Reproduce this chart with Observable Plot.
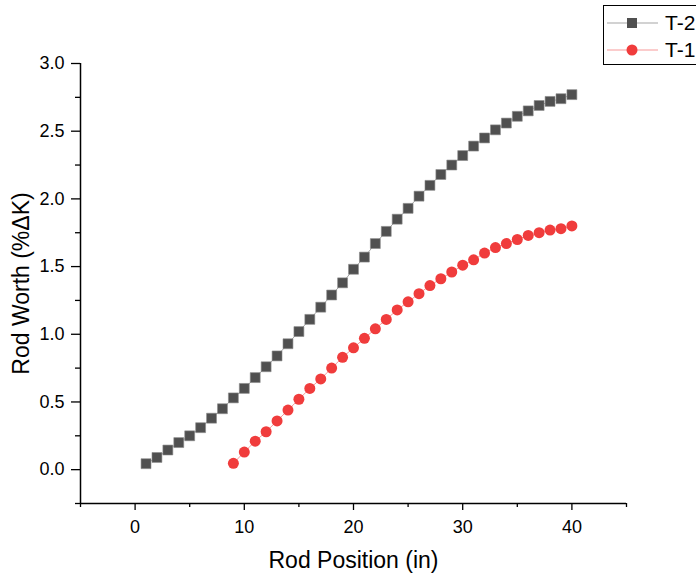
<!DOCTYPE html>
<html>
<head>
<meta charset="utf-8">
<script src="https://cdn.jsdelivr.net/npm/d3@7"></script>
<script src="https://cdn.jsdelivr.net/npm/@observablehq/plot@0.6"></script>
<style>
  html, body { margin: 0; padding: 0; background: #fff; }
  #wrap { position: relative; width: 696px; height: 573px; overflow: hidden; font-family: "Liberation Sans", Arial, sans-serif; }
  #legend { position: absolute; left: 603px; top: 5px; width: 120px; height: 60px; border: 1px solid #000; background: #fff; box-sizing: border-box; }
  #legend .row { position: absolute; left: 0; height: 26px; display: flex; align-items: center; }
  #legend .row span { font-size: 21px; color: #000; margin-left: 7px; }
</style>
</head>
<body>
<div id="wrap"></div>
<script>
const xT2 = [1,2,3,4,5,6,7,8,9,10,11,12,13,14,15,16,17,18,19,20,21,22,23,24,25,26,27,28,29,30,31,32,33,34,35,36,37,38,39,40];
const yT2 = [0.044,0.09,0.145,0.20,0.25,0.31,0.38,0.45,0.53,0.60,0.68,0.76,0.84,0.93,1.02,1.11,1.20,1.29,1.38,1.48,1.57,1.67,1.76,1.85,1.93,2.02,2.10,2.18,2.25,2.32,2.39,2.45,2.51,2.56,2.61,2.65,2.69,2.72,2.74,2.77];
const xT1 = [9,10,11,12,13,14,15,16,17,18,19,20,21,22,23,24,25,26,27,28,29,30,31,32,33,34,35,36,37,38,39,40];
const yT1 = [0.047,0.13,0.21,0.28,0.36,0.44,0.52,0.60,0.67,0.75,0.83,0.90,0.97,1.04,1.11,1.18,1.24,1.30,1.36,1.41,1.46,1.51,1.55,1.60,1.64,1.67,1.70,1.73,1.75,1.77,1.78,1.80];
const seriesNames = ["T-2", "T-1"];
const xMajor = [0,10,20,30,40];
const xMinor = [-5,5,15,25,35,45];
const yMajor = [0,0.5,1,1.5,2,2.5,3];
const yMinor = [-0.25,0.25,0.75,1.25,1.75,2.25,2.75];

const colT2 = "#505050", lineT2 = "#a6a6a6";
const colT1 = "#f03c3c", lineT1 = "#f79a9a";

const t2 = xT2.map((x, i) => ({x, y: yT2[i]}));
const t1 = xT1.map((x, i) => ({x, y: yT1[i]}));

const chart = Plot.plot({
  width: 696,
  height: 573,
  marginLeft: 80,
  marginRight: 70,
  marginTop: 63,
  marginBottom: 70,
  style: {fontFamily: "'Liberation Sans', Arial, sans-serif", fontSize: "18px", color: "#000", background: "#fff"},
  x: {domain: [-5, 45]},
  y: {domain: [-0.25, 3.0]},
  marks: [
    Plot.axisX({ticks: xMajor, tickSize: 7, tickPadding: 10, fontSize: 18, label: null, stroke: "#000", strokeWidth: 1.3}),
    Plot.axisX({ticks: xMinor, tickSize: 4, text: null, label: null, stroke: "#000", strokeWidth: 1.3}),
    Plot.axisY({ticks: yMajor, tickSize: 9, tickPadding: 7, fontSize: 18, tickFormat: d3.format(".1f"), label: null, stroke: "#000", strokeWidth: 1.3}),
    Plot.axisY({ticks: yMinor, tickSize: 5, text: null, label: null, stroke: "#000", strokeWidth: 1.3}),
    Plot.ruleY([-0.25], {stroke: "#000", strokeWidth: 1.5}),
    Plot.ruleX([-5], {stroke: "#000", strokeWidth: 1.5}),
    Plot.line(t2, {x: "x", y: "y", stroke: lineT2, strokeWidth: 1}),
    Plot.line(t1, {x: "x", y: "y", stroke: lineT1, strokeWidth: 1}),
    Plot.dot(t2, {x: "x", y: "y", symbol: "square", r: 5.6, fill: colT2, stroke: "#8a8a8a", strokeWidth: 0.6}),
    Plot.dot(t1, {x: "x", y: "y", symbol: "circle", r: 5.5, fill: colT1, stroke: "none"}),
    Plot.text(["Rod Position (in)"], {frameAnchor: "bottom", textAnchor: "middle", lineAnchor: "middle", dy: 57, fontSize: 23, fill: "#000"}),
    Plot.text(["Rod Worth (%ΔK)"], {frameAnchor: "left", textAnchor: "middle", lineAnchor: "middle", dx: -59, rotate: -90, fontSize: 23, fill: "#000"})
  ]
});

const wrap = document.getElementById("wrap");
wrap.appendChild(chart);

const legend = document.createElement("div");
legend.id = "legend";
const rows = [
  {name: seriesNames[0], line: lineT2, fill: colT2, sym: "square", top: 4},
  {name: seriesNames[1], line: lineT1, fill: colT1, sym: "circle", top: 31}
];
for (const r of rows) {
  const row = document.createElement("div");
  row.className = "row";
  row.style.top = r.top + "px";
  const shape = r.sym === "square"
    ? `<rect x="23" y="8" width="10" height="10" fill="${r.fill}"/>`
    : `<circle cx="28" cy="13" r="5.5" fill="${r.fill}"/>`;
  row.innerHTML = `<svg width="54" height="26" style="display:block"><line x1="3" x2="54" y1="13" y2="13" stroke="${r.line}" stroke-width="1.2"/>${shape}</svg><span>${r.name}</span>`;
  legend.appendChild(row);
}
wrap.appendChild(legend);
</script>
</body>
</html>
